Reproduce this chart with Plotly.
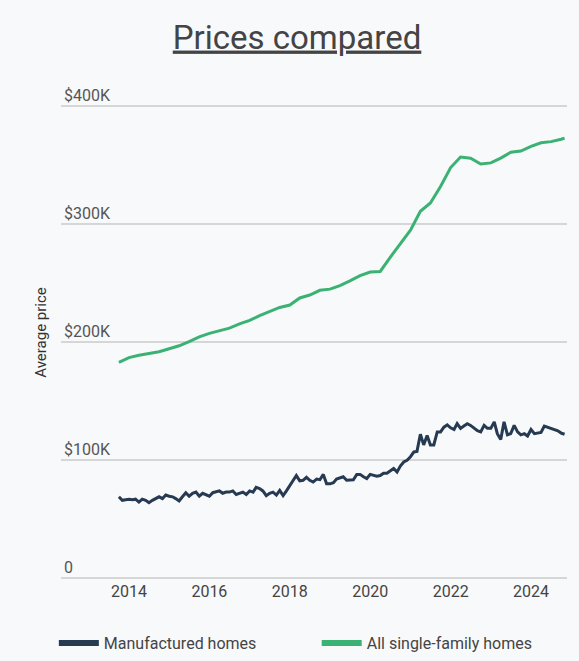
import pandas as pd
import plotly.graph_objects as go

# manufactured homes, monthly average price (thousands of $), Oct 2013 - Nov 2024
manufactured_k = [
    69, 66, 66.5, 67, 66.5, 67, 64.5, 67, 66, 64,
    66, 67.5, 69, 67.5, 70.5, 69.5, 69, 67.5, 65.5, 69,
    72.5, 69.5, 72, 73, 69.5, 72, 71, 69.5, 72.5, 73,
    74, 72, 73, 73, 74, 71, 72, 73, 71, 74,
    73, 77, 76, 74, 70, 72, 73, 70.5, 74.5, 70,
    74, 79, 83, 87, 82.5, 83, 85.5, 83, 81.5, 84,
    83.5, 88, 80, 80, 81, 84, 85, 86, 83, 83,
    83.5, 88, 88, 86, 84.5, 88, 87.5, 86.5, 87, 89,
    89, 91, 93, 90, 95, 98.5, 100, 103, 107, 107.5,
    122, 113, 121, 113, 113, 124, 124, 128, 130, 127.5,
    126, 131, 127, 129, 131, 129.5, 127, 125, 124, 129.5,
    127, 127, 132.5, 122.5, 117.5, 132.5, 121.5, 122.5, 129.5, 124,
    121.5, 122.5, 120.5, 126, 122.5, 123, 123.5, 129, 128, 127.5,
    126.5, 125, 123, 122,
]
manufactured_dates = pd.date_range("2013-10-01", periods=len(manufactured_k), freq="MS")

# all single-family homes, average price (thousands of $)
single_family_dates = [
    "2013-10-01", "2014-01-01", "2014-04-01", "2014-07-01", "2014-10-01",
    "2015-01-01", "2015-04-01", "2015-07-01", "2015-10-01",
    "2016-01-01", "2016-04-01", "2016-07-01", "2016-10-01",
    "2017-01-01", "2017-04-01", "2017-07-01", "2017-10-01",
    "2018-01-01", "2018-04-01", "2018-07-01", "2018-10-01",
    "2019-01-01", "2019-04-01", "2019-07-01", "2019-10-01",
    "2020-01-01", "2020-04-01", "2020-07-01", "2020-10-01",
    "2021-01-01", "2021-04-01", "2021-07-01", "2021-10-01",
    "2022-01-01", "2022-04-01", "2022-07-01", "2022-10-01",
    "2023-01-01", "2023-04-01", "2023-07-01", "2023-10-01",
    "2024-01-01", "2024-04-01", "2024-07-01", "2024-10-01", "2024-11-01",
]
single_family_k = [
    183, 187, 189, 190.5, 192,
    194.5, 197, 200.5, 204.5,
    207.5, 210, 212, 215.5,
    218.5, 222.5, 226, 229.5,
    231.5, 237.5, 240, 244,
    245, 248, 252, 256.5,
    259.5, 260, 272, 284,
    295, 311, 318, 332,
    348, 357, 356, 351,
    352, 356, 361, 362,
    366, 369, 370, 372, 373,
]

y_ticks = [0, 100000, 200000, 300000, 400000]
y_tick_labels = ["0", "$100K", "$200K", "$300K", "$400K"]
x_ticks = ["2014-01-01", "2016-01-01", "2018-01-01", "2020-01-01", "2022-01-01", "2024-01-01"]
x_tick_labels = ["2014", "2016", "2018", "2020", "2022", "2024"]

navy = "#263a52"
green = "#3bb273"

fig = go.Figure()
fig.add_trace(go.Scatter(
    x=manufactured_dates, y=[v * 1000 for v in manufactured_k],
    mode="lines", line=dict(color=navy, width=3), showlegend=False,
    name="Manufactured homes",
))
fig.add_trace(go.Scatter(
    x=pd.to_datetime(single_family_dates), y=[v * 1000 for v in single_family_k],
    mode="lines", line=dict(color=green, width=3), showlegend=False,
    name="All single-family homes",
))
# legend entries with thicker swatches, one legend box each
fig.add_trace(go.Scatter(x=[None], y=[None], mode="lines", legend="legend",
                         line=dict(color=navy, width=6), name="Manufactured homes"))
fig.add_trace(go.Scatter(x=[None], y=[None], mode="lines", legend="legend2",
                         line=dict(color=green, width=6), name="All single-family homes"))

legend_style = dict(orientation="h", xref="container", xanchor="left",
                    yref="container", y=0.027, yanchor="middle", itemwidth=40,
                    font=dict(size=16, color="#444"), bgcolor="rgba(0,0,0,0)")

fig.update_layout(
    width=579, height=661,
    paper_bgcolor="#f8f9fb", plot_bgcolor="#f8f9fb",
    font=dict(family="Roboto", size=16, color="#555"),
    margin=dict(l=61, r=12, t=85, b=81),
    title=dict(text="<u>Prices compared</u>", x=0.513, xanchor="center",
               yref="container", y=0.944, yanchor="middle",
               font=dict(size=33, color="#444", family="Roboto")),
    legend=dict(legend_style, x=0.093),
    legend2=dict(legend_style, x=0.547),
    showlegend=True,
)
fig.update_xaxes(
    type="date", range=["2012-04-23", "2024-11-23"],
    tickvals=x_ticks, ticktext=x_tick_labels,
    showgrid=False, zeroline=False, showline=False, ticks="",
    tickfont=dict(size=16, color="#444"), automargin=False,
)
fig.update_yaxes(
    range=[-1500, 418000], tickvals=y_ticks, ticktext=y_tick_labels,
    ticklabelposition="inside top", showgrid=True, gridcolor="#d6d6d6", gridwidth=1.5,
    zeroline=False, showline=False, ticks="", automargin=False,
    tickfont=dict(size=16, color="#555"),
    title=dict(text="Average price", standoff=13, font=dict(size=15, color="#333")),
)

fig.write_html("out.html", config={"displayModeBar": False},
               post_script="document.body.style.margin='0';")
